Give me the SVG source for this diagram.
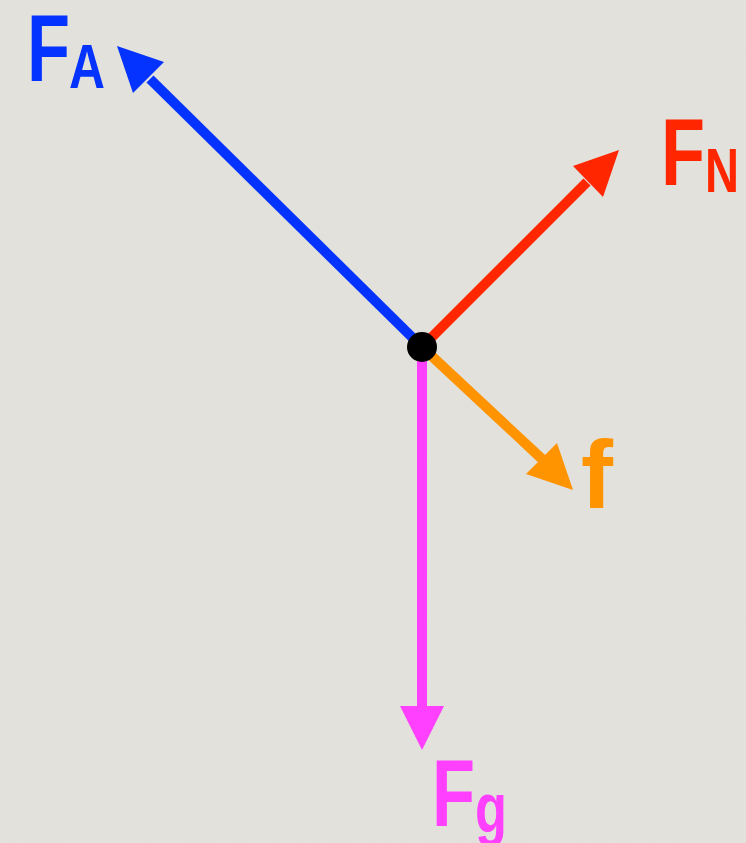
<svg xmlns="http://www.w3.org/2000/svg" width="746" height="843" viewBox="0 0 746 843">
  <defs>
    <filter id="grain" x="0" y="0" width="100%" height="100%">
      <feTurbulence type="fractalNoise" baseFrequency="0.9" numOctaves="2" seed="3" result="n"/>
      <feColorMatrix in="n" type="matrix" values="0 0 0 0 0.5  0 0 0 0 0.5  0 0 0 0 0.48  0 0 0 0.06 0"/>
    </filter>
  </defs>
  <style>
    .lbl { font-family: "Liberation Sans", Arial, sans-serif; font-weight: bold; }
    .big { font-size: 95px; }
    .sub { font-size: 63px; }
    .shaft { fill: none; stroke-width: 10; stroke-linecap: butt; }
  </style>
  <rect width="746" height="843" fill="#e3e2dc"/>
  <rect width="746" height="843" filter="url(#grain)"/>

  <g id="connectors">
    <g id="arrow-FA">
      <line class="shaft" x1="422" y1="347" x2="150" y2="79" stroke="#0433ff"/>
      <polygon points="117,46 164,62 133,93" fill="#0433ff"/>
    </g>
    <g id="arrow-FN">
      <line class="shaft" x1="422" y1="347" x2="587" y2="182" stroke="#ff2600"/>
      <polygon points="619,150 573,166 603,197" fill="#ff2600"/>
    </g>
    <g id="arrow-f">
      <line class="shaft" x1="422" y1="347" x2="542" y2="459" stroke="#ff9300"/>
      <polygon points="573,490 526,474 557,443" fill="#ff9300"/>
    </g>
    <g id="arrow-Fg">
      <line class="shaft" x1="422" y1="347" x2="422" y2="707" stroke="#ff40ff"/>
      <polygon points="422,750 400,706 444,706" fill="#ff40ff"/>
    </g>
  </g>

  <g id="point">
    <circle cx="422" cy="347" r="15" fill="#000"/>
  </g>

  <g id="label-FA" fill="#0433ff" class="lbl">
    <text class="big" x="27" y="81" textLength="43" lengthAdjust="spacingAndGlyphs">F</text>
    <text class="sub" x="69" y="88" textLength="36" lengthAdjust="spacingAndGlyphs">A</text>
  </g>
  <g id="label-FN" fill="#ff2600" class="lbl">
    <text class="big" x="661" y="185" textLength="44" lengthAdjust="spacingAndGlyphs">F</text>
    <text class="sub" x="705" y="192" textLength="34" lengthAdjust="spacingAndGlyphs">N</text>
  </g>
  <g id="label-f" fill="#ff9300" class="lbl">
    <text x="581" y="508" font-size="96" textLength="32" lengthAdjust="spacingAndGlyphs">f</text>
  </g>
  <g id="label-Fg" fill="#ff40ff" class="lbl">
    <text class="big" x="432" y="826" textLength="43" lengthAdjust="spacingAndGlyphs">F</text>
    <text x="475" y="832" font-size="70" textLength="32" lengthAdjust="spacingAndGlyphs">g</text>
  </g>
</svg>
